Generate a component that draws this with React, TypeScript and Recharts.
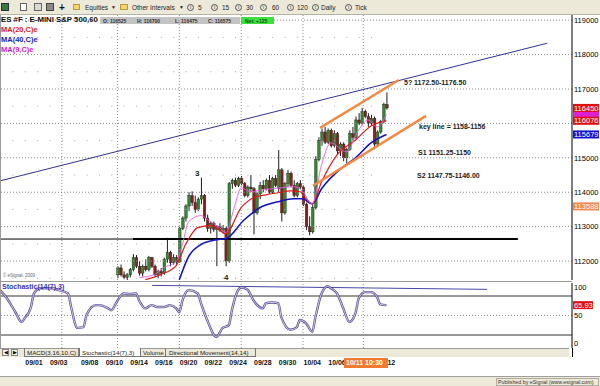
import React from "react";
import { ComposedChart, Bar, Line, XAxis, YAxis, ReferenceLine } from "recharts";

const FONT = "'Liberation Sans', Arial, sans-serif";

// ES #F 60 min candles. Bars are counted from the left edge of the chart,
// the first visible candle is bar 38 (earlier ones sit below the price range)
const firstCandleBar = 38;
const opens = [
  111600, 111800, 111600, 111525, 111600, 111750, 112100, 111850, 111650, 111850,
  111750, 112100, 111850, 111600, 111700, 111650, 112050, 112250, 111950, 112100,
  111975, 112950, 113250, 113600, 113900, 113700, 113500, 113800, 113900, 113250,
  112950, 113100, 112925, 113000, 112900, 112950, 112000, 114250, 114350, 114200,
  114400, 114250, 113900, 114150, 114100, 113400, 113950, 114200, 114100, 114350,
  114000, 114400, 114100, 114650, 113400, 114250, 114550, 114200, 113900, 114250,
  114150, 113650, 113000, 112850, 113550, 114950, 115500, 115750, 115450, 115800,
  115350, 115700, 115200, 115400, 115000, 115250, 115700, 115600, 116100, 116000,
  116350, 116200, 116000, 116150, 115400, 115750, 116050, 116550,
];
const highs = [
  111850, 111900, 111700, 111650, 111800, 112200, 112175, 112000, 111900, 112050,
  112150, 112125, 111900, 111750, 111800, 112100, 112675, 112300, 112200, 112175,
  113000, 113300, 113650, 114000, 114025, 113900, 113850, 114425, 113950, 113350,
  113150, 113150, 113050, 113100, 113050, 113000, 114300, 114400, 114425, 114450,
  114475, 114300, 114200, 114500, 114150, 114000, 114300, 114350, 114400, 114500,
  114450, 114500, 115225, 114700, 114300, 114650, 114600, 114350, 114300, 114350,
  114200, 113700, 113300, 113650, 115050, 115600, 115850, 115900, 115850, 115850,
  115800, 115750, 115450, 115450, 115300, 115800, 115900, 116200, 116300, 116450,
  116400, 116300, 116250, 116200, 115800, 116100, 116600, 116900,
];
const lows = [
  111500, 111550, 111475, 111450, 111525, 111700, 111800, 111575, 111550, 111700,
  111700, 111800, 111550, 111500, 111550, 111600, 111950, 111850, 111900, 111900,
  111950, 112900, 113150, 113450, 113600, 113400, 113450, 113650, 113150, 112850,
  112800, 112850, 111850, 112850, 112800, 111850, 111950, 114100, 114150, 114150,
  114200, 113850, 113850, 114000, 112775, 113350, 113800, 114000, 114050, 113950,
  113950, 114150, 114000, 113150, 113350, 114150, 114150, 113850, 113850, 114100,
  113600, 112900, 112750, 112800, 113500, 114900, 115350, 115400, 115400, 115300,
  115300, 115100, 115050, 114900, 114850, 115200, 115500, 115550, 115950, 115950,
  116150, 115900, 115950, 115250, 115350, 115700, 116000, 116400,
];
const closes = [
  111800, 111600, 111525, 111600, 111750, 112100, 111850, 111650, 111850, 111750,
  112100, 111850, 111600, 111700, 111650, 112050, 112250, 111950, 112100, 111975,
  112950, 113250, 113600, 113900, 113700, 113500, 113800, 113900, 113250, 112950,
  113100, 112925, 113000, 112900, 112950, 112000, 114250, 114350, 114200, 114400,
  114250, 113900, 114150, 114100, 113400, 113950, 114200, 114100, 114350, 114000,
  114400, 114200, 114650, 113400, 114250, 114550, 114200, 113900, 114250, 114150,
  113650, 113000, 112850, 113550, 114950, 115500, 115750, 115450, 115800, 115350,
  115700, 115200, 115400, 115000, 115250, 115700, 115600, 116100, 116000, 116350,
  116200, 116000, 116150, 115400, 115750, 116050, 116550, 116450,
];

// moving averages as [bar, value]
const ma9Points: [number, number][] = [
  [45, 111520], [50, 111610], [53, 111810], [57, 111985], [59, 112480], [61, 113145],
  [65, 113320], [68, 113145], [71, 112970], [73, 112825], [76, 113635], [78, 114130],
  [81, 114015], [85, 114070], [91, 114130], [95, 114160], [98, 114015], [100, 113725],
  [101, 113665], [104, 114795], [107, 115435], [112, 115175], [116, 115810], [119, 116100],
  [122, 115900], [125, 116270],
];
const ma20Points: [number, number][] = [
  [47, 111460], [52, 111610], [57, 111870], [60, 112480], [64, 112970], [68, 113030],
  [70, 112970], [73, 112795], [78, 113550], [82, 113840], [86, 113925], [90, 113985],
  [94, 114040], [97, 114015], [99, 113810], [101, 113665], [104, 114300], [109, 115085],
  [115, 115520], [120, 115925], [125, 116076],
];
const ma40Points: [number, number][] = [
  [58, 111460], [61, 112130], [65, 112480], [70, 112620], [73, 112650], [79, 113200],
  [84, 113550], [90, 113725], [95, 113810], [98, 113810], [100, 113695], [101, 113665],
  [104, 114100], [111, 114740], [115, 115000], [120, 115435], [125, 115679],
];

// Stochastic(14(7),3)
const stochPoints: [number, number][] = [
  [0, 89], [2, 78], [5, 55], [7, 40], [8, 46], [10, 63], [11, 84], [13, 92], [17, 92],
  [19, 89], [22, 84], [23, 63], [25, 31], [27, 32], [28, 51], [31, 66], [32, 66], [35, 61],
  [36, 58], [38, 73], [40, 84], [42, 83], [44, 84], [45, 73], [47, 61], [49, 66], [51, 63],
  [53, 63], [55, 66], [57, 61], [58, 55], [59, 73], [61, 89], [64, 84], [65, 69], [67, 43],
  [70, 17], [72, 31], [74, 35], [75, 58], [77, 89], [78, 93], [80, 90], [82, 73], [85, 61],
  [86, 69], [88, 70], [90, 69], [91, 47], [94, 28], [96, 32], [97, 43], [99, 38], [101, 25],
  [102, 47], [104, 84], [106, 95], [107, 92], [109, 84], [111, 61], [113, 40], [115, 54],
  [116, 76], [118, 86], [120, 86], [122, 78], [123, 67], [125, 65.93],
];

// drawn lines [bar, price]
const blueTrend = [[0, 114330], [177, 118330]];
const channelUpper = [[103.5, 115870], [129, 117260]];
const channelLower = [[101.2, 114190], [137.8, 116220]];
const supportLevel = 112640;
const stochTrend = [[49.2, 96.3], [157.5, 90.2]];

const priceTicks = [112000, 113000, 114000, 115000, 117000, 118000, 119000];
const gridLevels = [112000, 113000, 114000, 115000, 116000, 117000, 118000, 119000];
const minorLevels = [111500, 112500, 113500, 114500, 115500, 116500, 117500, 118500];
const weekStartBars = [20, 38, 58, 78, 98, 117.5];
const dateLabels = ["09/01", "09/03", "09/08", "09/10", "09/14", "09/16", "09/20", "09/22",
  "09/24", "09/28", "09/30", "10/04", "10/06", "10/12"];
const dateBars = [11, 19, 29, 37, 45, 53, 61, 69, 77, 85, 93, 101, 109, 125];
const stochTicks = [0, 50, 100];

const lastClose = 116450;
const lastMa9 = 116270;
const lastMa20 = 116076;
const lastMa40 = 115679;
const orangeLevel = 113588;
const lastStoch = 65.93;

const rows: any[] = Array.from({ length: 126 }, (_, bar) => {
  const i = bar - firstCandleBar;
  const r: any = { bar };
  if (i >= 0 && i < opens.length) {
    r.open = opens[i];
    r.high = highs[i];
    r.low = lows[i];
    r.close = closes[i];
  }
  return r;
});
ma9Points.forEach(([b, v]) => (rows[b].ma9 = v));
ma20Points.forEach(([b, v]) => (rows[b].ma20 = v));
ma40Points.forEach(([b, v]) => (rows[b].ma40 = v));
stochPoints.forEach(([b, v]) => (rows[b].stoch = v));

const seg = (p: number[][]) => p.map(([x, y]) => ({ x, y }));

const Candle = (props: any) => {
  const { x, y, width, height, payload } = props;
  if (!payload || payload.open == null || !height) return null;
  const { open, close, high, low } = payload;
  const top = height >= 0 ? y : y + height;
  const h = Math.abs(height);
  const k = h / (high - low);
  const cx = x + width / 2;
  const yO = top + (high - open) * k;
  const yC = top + (high - close) * k;
  const up = close >= open;
  return (
    <g>
      <line x1={cx} x2={cx} y1={top} y2={top + h} stroke="#1c1c1c" strokeWidth={1} />
      <rect x={cx - 1.3} y={Math.min(yO, yC)} width={2.6} height={Math.max(Math.abs(yO - yC), 1)}
        fill={up ? "#2e8b2e" : "#8e1c1c"} stroke="#1c1c1c" strokeWidth={0.4} />
    </g>
  );
};

const PriceTick = ({ x, y, payload }: any) => (
  <text x={x} y={y + 2.7} fontSize={7.5} fontFamily={FONT} fill="#000">{payload.value}</text>
);

const StochTick = ({ x, y, payload }: any) => {
  const dy = payload.value === 100 ? 6.5 : payload.value === 0 ? -2.5 : 2.7;
  return <text x={x} y={y + dy} fontSize={7.5} fontFamily={FONT} fill="#000">{payload.value}</text>;
};

const DateTick = ({ x, y, payload }: any) => (
  <text x={x} y={y + 17} textAnchor="middle" fontSize={7} fontWeight="bold" fontFamily={FONT} fill="#111">
    {dateLabels[dateBars.indexOf(payload.value)]}
  </text>
);

const AxisBox = ({ viewBox, text, bg, w = 26 }: any) => {
  if (!viewBox) return null;
  const x = viewBox.x + viewBox.width + 1;
  const y = viewBox.y;
  return (
    <g>
      <rect x={x} y={y - 4} width={w} height={8} fill={bg} />
      {text ? (
        <text x={x + 1} y={y + 2.7} fontSize={7.5} fontFamily={FONT} fill="#fff">{text}</text>
      ) : null}
    </g>
  );
};

const Txt = ({ left, top, size = 7, color = "#111", bold = false, children, style }: any) => (
  <div style={{ position: "absolute", left, top, fontSize: size, lineHeight: `${size + 1}px`, color,
    fontWeight: bold ? "bold" : "normal", whiteSpace: "nowrap", fontFamily: FONT, ...style }}>
    {children}
  </div>
);

const Box = ({ left, top, width, height, style }: any) => (
  <div style={{ position: "absolute", left, top, width, height, boxSizing: "border-box", ...style }} />
);

const InfoIcon = ({ left }: any) => (
  <div style={{ position: "absolute", left, top: 4, width: 7, height: 7, borderRadius: 4,
    border: "1px solid #555", boxSizing: "border-box", fontSize: 5, lineHeight: "5px",
    textAlign: "center", fontFamily: FONT, color: "#333" }}>i</div>
);

export default function App() {
  return (
    <div style={{ position: "absolute", left: 0, top: 0, width: 600, height: 386, overflow: "hidden",
      background: "#fff", fontFamily: FONT }}>
      {/* price panel */}
      <div style={{ position: "absolute", left: 0, top: 0 }}>
        <ComposedChart width={600} height={281} data={rows} margin={{ top: 15, right: 0, bottom: 1, left: 0 }}>
          <XAxis type="number" dataKey="bar" domain={[0, 185]} hide allowDataOverflow />
          <YAxis orientation="right" width={28} domain={[111450, 119150]} allowDataOverflow
            ticks={priceTicks} interval={0} tick={<PriceTick />} tickLine={false} tickSize={2} tickMargin={0}
            axisLine={{ stroke: "#000" }} />
          {gridLevels.map((v) => (
            <ReferenceLine key={"g" + v} y={v} stroke="#8a8a8a" strokeDasharray="1 2" />
          ))}
          {minorLevels.map((v) => (
            <ReferenceLine key={"m" + v} segment={[{ x: 0, y: v }, { x: 123, y: v }]}
              stroke="#a8a8a8" strokeDasharray="1 11.37" />
          ))}
          {weekStartBars.map((b) => (
            <ReferenceLine key={"w" + b} x={b} stroke="#8a8a8a" strokeDasharray="1 2" />
          ))}
          <ReferenceLine segment={[{ x: 0, y: supportLevel }, { x: 43, y: supportLevel }]} stroke="#000" strokeWidth={1} />
          <ReferenceLine segment={[{ x: 43, y: supportLevel }, { x: 167.5, y: supportLevel }]} stroke="#000" strokeWidth={2} />
          <ReferenceLine segment={seg(blueTrend)} stroke="#32328c" strokeWidth={1} />
          <Bar dataKey={(d: any) => (d.low == null ? null : [d.low, d.high])} barSize={2}
            shape={<Candle />} isAnimationActive={false} />
          <Line dataKey="ma40" type="monotone" stroke="#1414c0" strokeWidth={1.6} dot={false} connectNulls isAnimationActive={false} />
          <Line dataKey="ma20" type="monotone" stroke="#e01818" strokeWidth={1.2} dot={false} connectNulls isAnimationActive={false} />
          <Line dataKey="ma9" type="monotone" stroke="#e060e0" strokeWidth={0.9} dot={false} connectNulls isAnimationActive={false} />
          <ReferenceLine segment={seg(channelUpper)} stroke="#f28a44" strokeWidth={2.5} />
          <ReferenceLine segment={seg(channelLower)} stroke="#f28a44" strokeWidth={2.5} />
          <ReferenceLine y={lastMa9} stroke="none" label={<AxisBox bg="#e020d0" />} />
          <ReferenceLine y={lastClose} stroke="none" label={<AxisBox text={String(lastClose)} bg="#e01010" />} />
          <ReferenceLine y={lastMa20} stroke="none" label={<AxisBox text={String(lastMa20)} bg="#e01010" />} />
          <ReferenceLine y={lastMa40} stroke="none" label={<AxisBox text={String(lastMa40)} bg="#1010d0" />} />
          <ReferenceLine y={orangeLevel} stroke="none" label={<AxisBox text={String(orangeLevel)} bg="#f08848" />} />
        </ComposedChart>
      </div>

      {/* stochastic panel + date axis */}
      <div style={{ position: "absolute", left: 0, top: 282 }}>
        <ComposedChart width={600} height={88} data={rows} margin={{ top: 1, right: 0, bottom: 0, left: 0 }}>
          <XAxis type="number" dataKey="bar" domain={[0, 185]} allowDataOverflow ticks={dateBars} interval={0}
            height={22} axisLine={false} tickLine={false} tickSize={0} tickMargin={0} tick={<DateTick />} />
          <YAxis orientation="right" width={28} domain={[0, 100]} allowDataOverflow ticks={stochTicks} interval={0}
            tick={<StochTick />} tickLine={false} tickSize={2} tickMargin={0} axisLine={{ stroke: "#000" }} />
          <ReferenceLine y={50} stroke="#8a8a8a" strokeDasharray="1 2" />
          <ReferenceLine y={80} stroke="#333" />
          <ReferenceLine y={20} stroke="#333" />
          {weekStartBars.map((b) => (
            <ReferenceLine key={"sw" + b} x={b} stroke="#8a8a8a" strokeDasharray="1 2" />
          ))}
          <ReferenceLine segment={seg(stochTrend)} stroke="#4646a6" strokeWidth={1} />
          <Line dataKey="stoch" type="monotone" stroke="#5a4e98" strokeWidth={2.4} dot={false} connectNulls isAnimationActive={false} />
          <Line dataKey="stoch" type="monotone" stroke="#f6eef8" strokeWidth={0.8} dot={false} connectNulls isAnimationActive={false} />
          <ReferenceLine y={lastStoch} stroke="none" label={<AxisBox text={String(lastStoch)} bg="#e01010" w={20} />} />
        </ComposedChart>
      </div>

      {/* panel borders */}
      <Box left={0} top={15} width={1} height={333} style={{ background: "#9a9a9a" }} />
      <Box left={0} top={281} width={572} height={1} style={{ background: "#9a9a9a" }} />
      <Box left={571.5} top={348} width={1} height={9} style={{ background: "#000" }} />

      {/* header */}
      <Txt left={1} top={16} size={7.8} bold color="#111">ES #F : E-MINI S&amp;P 500,60</Txt>
      <Box left={100} top={17} width={140} height={7} style={{ background: "#c4c4c4" }} />
      <Txt left={103} top={17.5} size={5} bold color="#333">O: 116525</Txt>
      <Txt left={137} top={17.5} size={5} bold color="#333">H: 116700</Txt>
      <Txt left={175} top={17.5} size={5} bold color="#333">L: 116475</Txt>
      <Txt left={208} top={17.5} size={5} bold color="#333">C: 116575</Txt>
      <Box left={241} top={17} width={33} height={7} style={{ background: "#3ee03e" }} />
      <Txt left={245} top={17.5} size={5} bold color="#145214">Net: +125</Txt>
      <Txt left={1} top={26} size={7.5} bold color="#e02020">MA(20,C)e</Txt>
      <Txt left={1} top={35.5} size={7.5} bold color="#2020c0">MA(40,C)e</Txt>
      <Txt left={1} top={45.5} size={7.5} bold color="#d020d0">MA(9,C)e</Txt>

      {/* annotations */}
      <Txt left={404} top={79} size={7} bold color="#1a1a1a">5? 1172.50-1176.50</Txt>
      <Txt left={419} top={123} size={7} bold color="#1a1a1a">key line = 1158-1156</Txt>
      <Txt left={418} top={149} size={7} bold color="#1a1a1a">S1 1151.25-1150</Txt>
      <Txt left={417} top={172} size={7} bold color="#1a1a1a">S2 1147.75-1146.00</Txt>
      <Txt left={195} top={169} size={8} bold color="#222">3</Txt>
      <Txt left={224} top={273} size={8} bold color="#222">4</Txt>
      <Txt left={3} top={273} size={4.5} color="#666">© eSignal, 2009</Txt>
      <Txt left={2} top={283} size={7} bold color="#3535b5">Stochastic(14(7),3)</Txt>

      {/* toolbar */}
      <Box left={0} top={0} width={600} height={15} style={{ background: "#ece9d8", borderBottom: "1px solid #b8b4a4" }} />
      <Box left={1} top={3} width={8} height={8} style={{ background: "#3a7a3a", border: "1px solid #234" }} />
      <Box left={20} top={3} width={7} height={8} style={{ background: "#fff", border: "1px solid #666" }} />
      <Box left={34} top={3} width={8} height={8} style={{ background: "#d8d8d8", border: "1px solid #666" }} />
      <Box left={46} top={3} width={8} height={8} style={{ background: "#8a8a8a", border: "1px solid #444" }} />
      <Txt left={59} top={2} size={10} bold color="#111">+</Txt>
      <Box left={73} top={4} width={7} height={6} style={{ background: "#f4d46c", border: "1px solid #b89a3c" }} />
      <Txt left={85} top={3.5} size={6.5} color="#222">Equities</Txt>
      <Txt left={111} top={4} size={5} color="#222">▼</Txt>
      <Box left={120} top={4} width={8} height={6} style={{ background: "#f4d46c", border: "1px solid #b89a3c" }} />
      <Txt left={132} top={3.5} size={6.5} color="#222">Other Intervals</Txt>
      <Txt left={179} top={4} size={5} color="#222">▼</Txt>
      <InfoIcon left={187} />
      <Txt left={198} top={3.5} size={6.5} color="#222">5</Txt>
      <InfoIcon left={211} />
      <Txt left={222} top={3.5} size={6.5} color="#222">15</Txt>
      <InfoIcon left={235} />
      <Txt left={246} top={3.5} size={6.5} color="#222">30</Txt>
      <InfoIcon left={260} />
      <Txt left={272} top={3.5} size={6.5} color="#222">60</Txt>
      <InfoIcon left={287} />
      <Txt left={297} top={3.5} size={6.5} color="#222">120</Txt>
      <InfoIcon left={312} />
      <Txt left={321} top={3.5} size={6.5} color="#222">Daily</Txt>
      <InfoIcon left={345} />
      <Txt left={355} top={3.5} size={6.5} color="#222">Tick</Txt>

      {/* tabs */}
      <Box left={0} top={348} width={569} height={9} style={{ background: "#ece9d8", borderTop: "1px solid #999" }} />
      <Box left={2} top={349} width={7} height={7} style={{ background: "#f4f2ea", border: "1px solid #888" }} />
      <Box left={11} top={349} width={7} height={7} style={{ background: "#f4f2ea", border: "1px solid #888" }} />
      <Txt left={3.5} top={350} size={4.5} color="#000">◀</Txt>
      <Txt left={12.5} top={350} size={4.5} color="#000">▶</Txt>
      <Box left={24} top={348} width={55} height={9} style={{ borderLeft: "1px solid #777", borderRight: "1px solid #777", borderBottom: "1px solid #777" }} />
      <Txt left={27} top={349} size={6.2} color="#222">MACD(3,16,10,C)</Txt>
      <Box left={79} top={348} width={62} height={9} style={{ background: "#fff", borderLeft: "1px solid #777", borderRight: "1px solid #777", borderBottom: "1px solid #777" }} />
      <Txt left={82} top={349} size={6.2} color="#222">Stochastic(14(7),3)</Txt>
      <Box left={141} top={348} width={25} height={9} style={{ borderRight: "1px solid #777", borderBottom: "1px solid #777" }} />
      <Txt left={143} top={349} size={6.2} color="#222">Volume</Txt>
      <Box left={166} top={348} width={90} height={9} style={{ borderRight: "1px solid #777", borderBottom: "1px solid #777" }} />
      <Txt left={169} top={349} size={6.2} color="#222">Directional Movement(14,14)</Txt>

      {/* cursor date */}
      <Box left={344} top={358} width={44} height={10} style={{ background: "#f07a30" }} />
      <Txt left={346} top={359} size={7} bold color="#fff">10/11 10:30</Txt>

      {/* status bar */}
      <Box left={0} top={376} width={600} height={10} style={{ background: "#ece9d8", borderTop: "1px solid #a0a0a0" }} />
      <Box left={496} top={378} width={103} height={8} style={{ border: "1px solid #b0aca0" }} />
      <Txt left={498} top={379} size={5.3} color="#333">Published by eSignal (www.esignal.com)</Txt>
    </div>
  );
}
